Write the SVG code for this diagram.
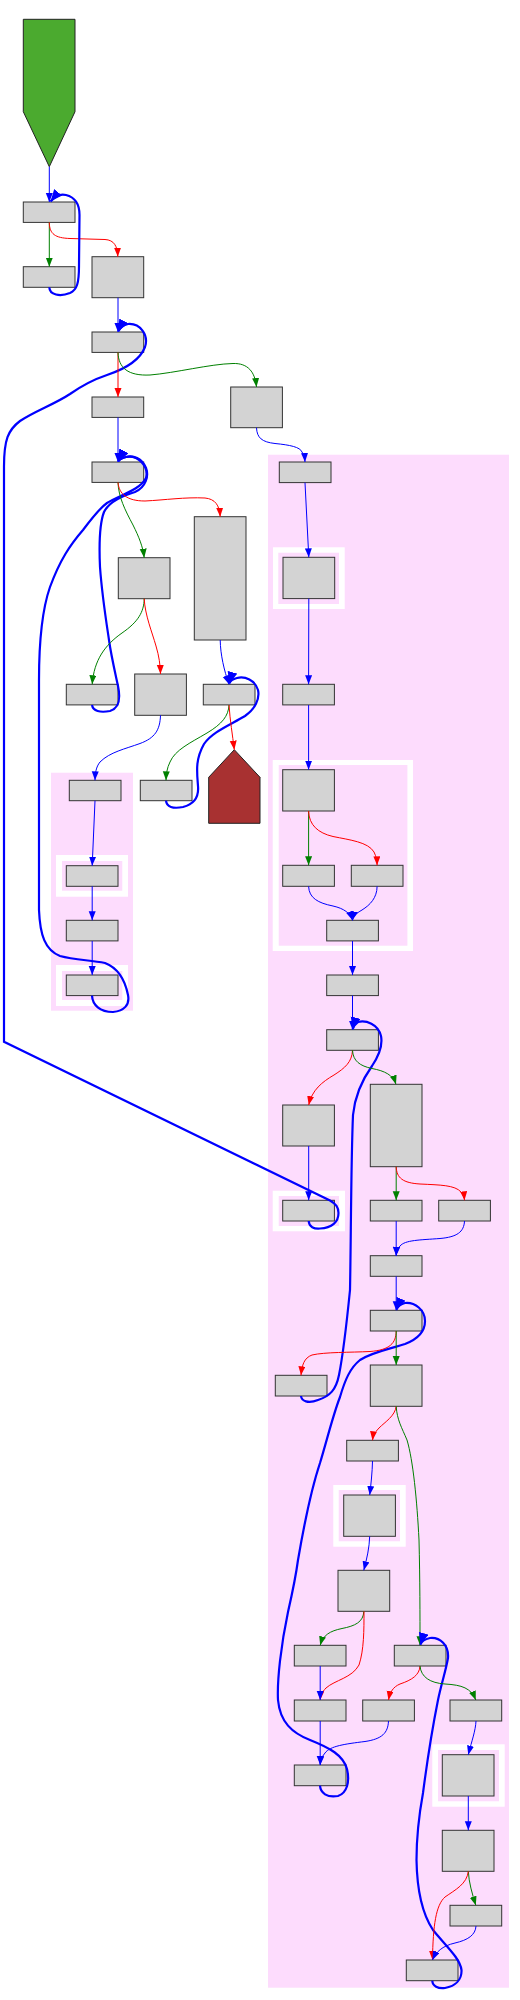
<svg xmlns="http://www.w3.org/2000/svg" width="520" height="2000" viewBox="0 0 520 2000">
<style>
.n{fill:#d3d3d3;stroke:#333;stroke-width:1}
.cl{fill:#fddcfd;stroke:none}
.fr{fill:#fff;stroke:none}
.e{fill:none;stroke-width:1}
.b{stroke:#0000ff}
.g{stroke:#008000}
.r{stroke:#ff0000}
.t{fill:none;stroke:#0000ff;stroke-width:2.2}
</style>
<defs>
<marker id="mb" markerUnits="userSpaceOnUse" markerWidth="10" markerHeight="8" refX="9" refY="3.5" orient="auto"><path d="M0,0 L9,3.5 L0,7 z" fill="#0000ff"/></marker>
<marker id="mg" markerUnits="userSpaceOnUse" markerWidth="10" markerHeight="8" refX="9" refY="3.5" orient="auto"><path d="M0,0 L9,3.5 L0,7 z" fill="#008000"/></marker>
<marker id="mr" markerUnits="userSpaceOnUse" markerWidth="10" markerHeight="8" refX="9" refY="3.5" orient="auto"><path d="M0,0 L9,3.5 L0,7 z" fill="#ff0000"/></marker>
<marker id="mt" markerUnits="userSpaceOnUse" markerWidth="13" markerHeight="11" refX="12" refY="5" orient="auto"><path d="M0,0 L12,5 L0,10 z" fill="#0000ff"/></marker>
</defs>

<g id="clusters">
<rect class="cl" x="51" y="772.7" width="82" height="238"/>
<rect class="fr" x="56" y="855" width="72" height="41.7"/>
<rect class="cl" x="62" y="861" width="60.3" height="29.7"/>
<rect class="fr" x="56" y="965" width="72" height="41"/>
<rect class="cl" x="62" y="971" width="60.3" height="29"/>
<rect class="cl" x="268" y="454.7" width="241" height="1533"/>
<rect class="fr" x="273" y="547.3" width="71.7" height="61.7"/>
<rect class="cl" x="278.3" y="552.7" width="60.7" height="51.3"/>
<rect class="fr" x="272.7" y="760" width="140.3" height="191"/>
<rect class="cl" x="278.7" y="765" width="128.7" height="180.7"/>
<rect class="fr" x="272.7" y="1190.7" width="72.3" height="40.6"/>
<rect class="cl" x="278.7" y="1196" width="60.3" height="30"/>
<rect class="fr" x="333.3" y="1485" width="72.4" height="61.7"/>
<rect class="cl" x="338.7" y="1490" width="61.3" height="51.3"/>
<rect class="fr" x="432.3" y="1744.3" width="72.4" height="62.4"/>
<rect class="cl" x="438" y="1750" width="61" height="51.3"/>
</g>

<g id="start"><polygon points="23.3,19.3 75,19.3 75,111.7 49.3,166.7 23.3,111.7" fill="#4baa2f" stroke="#222" stroke-width="1"/></g>
<g id="A1"><rect class="n" x="23.3" y="202" width="51.7" height="20.4"/></g>
<g id="A2"><rect class="n" x="23.3" y="266.7" width="51.7" height="20.6"/></g>
<g id="A3"><rect class="n" x="92" y="256.7" width="51.7" height="41"/></g>
<g id="B1"><rect class="n" x="92" y="332" width="51.7" height="20.4"/></g>
<g id="B2"><rect class="n" x="92" y="397" width="51.7" height="20.4"/></g>
<g id="B3"><rect class="n" x="92" y="462" width="51.7" height="20.4"/></g>
<g id="C1"><rect class="n" x="230.7" y="387" width="51.7" height="40.7"/></g>
<g id="B4"><rect class="n" x="118.3" y="557.7" width="51.7" height="41"/></g>
<g id="T"><rect class="n" x="194.3" y="516.7" width="51.7" height="123.3"/></g>
<g id="D1"><rect class="n" x="66.3" y="684.3" width="51.7" height="20.6"/></g>
<g id="D2"><rect class="n" x="134.7" y="674" width="51.7" height="41.3"/></g>
<g id="D3"><rect class="n" x="203.3" y="684.3" width="51.7" height="20.6"/></g>
<g id="D4"><rect class="n" x="140.3" y="780.3" width="51.7" height="20.4"/></g>
<g id="end"><polygon points="208.7,823.3 208.7,777.3 234.3,749.7 260,777.3 260,823.3" fill="#a83131" stroke="#222" stroke-width="1"/></g>
<g id="E1"><rect class="n" x="69.3" y="780.3" width="51.7" height="20.4"/></g>
<g id="E2"><rect class="n" x="66.3" y="865.7" width="51.7" height="20.6"/></g>
<g id="E3"><rect class="n" x="66.3" y="920.3" width="51.7" height="20.6"/></g>
<g id="E4"><rect class="n" x="66.3" y="975" width="51.7" height="20.6"/></g>
<g id="F1"><rect class="n" x="279.3" y="462" width="51.7" height="20.6"/></g>
<g id="F2"><rect class="n" x="283" y="557.3" width="51.7" height="41.3"/></g>
<g id="F3"><rect class="n" x="282.7" y="684.3" width="51.7" height="20.6"/></g>
<g id="G1"><rect class="n" x="282.7" y="769.7" width="51.7" height="41.3"/></g>
<g id="G2"><rect class="n" x="282.7" y="865.3" width="51.7" height="21"/></g>
<g id="G3"><rect class="n" x="351.3" y="865.3" width="51.7" height="21"/></g>
<g id="G4"><rect class="n" x="326.7" y="920.3" width="51.7" height="20.6"/></g>
<g id="G5"><rect class="n" x="326.7" y="975" width="51.7" height="20.6"/></g>
<g id="H1"><rect class="n" x="326.7" y="1029.7" width="51.7" height="20.6"/></g>
<g id="H2"><rect class="n" x="282.7" y="1105" width="51.7" height="41"/></g>
<g id="H3"><rect class="n" x="370.3" y="1084.3" width="51.7" height="82.4"/></g>
<g id="H4"><rect class="n" x="282.7" y="1200.3" width="51.7" height="20.7"/></g>
<g id="H5"><rect class="n" x="370.3" y="1200.3" width="51.7" height="20.7"/></g>
<g id="H6"><rect class="n" x="438.7" y="1200.3" width="51.7" height="20.7"/></g>
<g id="H7"><rect class="n" x="370.3" y="1255.7" width="51.7" height="20.6"/></g>
<g id="I1"><rect class="n" x="370.3" y="1310.3" width="51.7" height="20.7"/></g>
<g id="I2"><rect class="n" x="275.3" y="1375.3" width="51.7" height="20.7"/></g>
<g id="I3"><rect class="n" x="370.3" y="1365" width="51.7" height="41.3"/></g>
<g id="I4"><rect class="n" x="346.7" y="1440.3" width="51.7" height="20.7"/></g>
<g id="I5"><rect class="n" x="343.7" y="1495" width="51.7" height="41.3"/></g>
<g id="I6"><rect class="n" x="338" y="1570.3" width="51.7" height="41"/></g>
<g id="J1"><rect class="n" x="294.3" y="1645.3" width="51.7" height="20.7"/></g>
<g id="J2"><rect class="n" x="294.3" y="1700" width="51.7" height="21"/></g>
<g id="J3"><rect class="n" x="294.3" y="1765" width="51.7" height="20.7"/></g>
<g id="K1"><rect class="n" x="394.3" y="1645.3" width="51.7" height="20.7"/></g>
<g id="K2"><rect class="n" x="362.7" y="1700" width="51.7" height="21"/></g>
<g id="K3"><rect class="n" x="450" y="1700" width="51.7" height="21"/></g>
<g id="K4"><rect class="n" x="442.3" y="1754.7" width="51.7" height="41.3"/></g>
<g id="K5"><rect class="n" x="442.3" y="1830.3" width="51.7" height="41"/></g>
<g id="K6"><rect class="n" x="450" y="1905.3" width="51.7" height="20.7"/></g>
<g id="K7"><rect class="n" x="406.3" y="1960" width="51.7" height="20.7"/></g>

<g id="connectors">
<path class="e b" marker-end="url(#mb)" d="M49.3,166.7 L49.3,202"/>
<path class="e g" marker-end="url(#mg)" d="M49.3,222.4 L49.3,266.7"/>
<path class="e r" marker-end="url(#mr)" d="M49.3,222.4 C49.5,234 55,238 70,238.5 L105,239.5 C114,240 117.5,246 117.8,256.7"/>
<path class="t" marker-end="url(#mt)" d="M49.3,287.3 C49.5,295 60,297 70,293 C77,290 79,283 79,266 L79.5,215 C79.5,203 74,197 66,195 C60,193.5 55,196 50.5,201.5"/>
<path class="e b" marker-end="url(#mb)" d="M118,297.7 L118,332"/>
<path class="t" marker-end="url(#mt)" d="M308.7,1221 C309,1227 314,1229 320,1228.5 C332,1228 338.5,1222 338.5,1213 C338.5,1207 336,1204 330,1200.5 L4,1041.7 L4,466.7 C4,440 8,430 20,421 C35,411 55,404 70,394 C80,387 92,380 107,375 C125,369 140,360 145,347 C149,335 140,323 128,324 C123,325 120,328 118.2,331.5"/>
<path class="e r" marker-end="url(#mr)" d="M118,352.4 L118,397"/>
<path class="e g" marker-end="url(#mg)" d="M118,352.4 C118.5,368 128,376 150,375 C175,373 210,364 233,363.5 C248,363 255,372 256.5,387"/>
<path class="e b" marker-end="url(#mb)" d="M118,417.4 L118,462"/>
<path class="t" marker-end="url(#mt)" d="M92,705 C93,711 100,713 110,711 C119,708 121,700 118,686 C115,672 111,655 109,640 C106,620 102,595 100,567 C99,545 99,525 104,512 C110,500 125,495 135,492 C146,487 149,476 146,468 C142,458 133,455 126,457 C122,458 119,460 118.2,461.5"/>
<path class="t" marker-end="url(#mt)" d="M92,995.6 C92.5,1005 100,1012 113,1012 C124,1011 130,1005 128,995 C125,980 118,968 105,963 C90,960 75,960 60,956 C45,950 40,935 39,910 L39,680 C39,640 42,610 50,587 C60,560 70,545 83,530 C92,518 100,508 107,503 C120,495 140,490 146,478 C149,466 138,455 126,457 C122,458 119,460 118.2,461.5"/>
<path class="e g" marker-end="url(#mg)" d="M118,482.4 C118.5,497 125,510 133,525 C139,537 143,547 144.2,557.7"/>
<path class="e r" marker-end="url(#mr)" d="M118,482.4 C119,494 127,501 145,501 C165,500 185,497 205,498 C215,499 219.5,505 220.2,516.7"/>
<path class="e g" marker-end="url(#mg)" d="M144.2,598.7 C144,612 138,622 122,633 C105,645 94,660 92.2,684.3"/>
<path class="e r" marker-end="url(#mr)" d="M144.2,598.7 C145,615 152,632 156,646 C159,656 160.3,665 160.5,674"/>
<path class="e b" marker-end="url(#mb)" d="M220.2,640 C220.5,655 224,670 229,684.3"/>
<path class="t" marker-end="url(#mt)" d="M166,800.7 C166.5,807 173,809 183,807 C195,804 199,797 198,786 C197,772 195,760 204,744 C212,732 230,725 245,716 C255,709 260,699 258,690 C255,680 245,676 237,678 C233,679 230,681 229.2,683.8"/>
<path class="e g" marker-end="url(#mg)" d="M229,705 C228.5,716 222,724 207,733 C190,743 175,750 170,762 C167,768 166.2,774 166,780.3"/>
<path class="e r" marker-end="url(#mr)" d="M229,705 C230,720 232.5,735 234.3,749.7"/>
<path class="e b" marker-end="url(#mb)" d="M160.5,715.3 C160,730 155,738 140,743.5 C125,749 110,752 100,762 C96,767 95.2,773 95,780.3"/>
<path class="e b" marker-end="url(#mb)" d="M95,800.7 L92.2,865.7"/>
<path class="e b" marker-end="url(#mb)" d="M92.2,886.3 L92.2,920.3"/>
<path class="e b" marker-end="url(#mb)" d="M92.2,941 L92.2,975"/>
<path class="e b" marker-end="url(#mb)" d="M256.5,427.7 C257,438 262,442 275,443.5 C290,445 300,447 302,452 C304,455 304.8,458 305,462"/>
<path class="e b" marker-end="url(#mb)" d="M305,482.7 L308.8,557.3"/>
<path class="e b" marker-end="url(#mb)" d="M308.8,598.6 L308.6,684.3"/>
<path class="e b" marker-end="url(#mb)" d="M308.6,705 L308.6,769.7"/>
<path class="e g" marker-end="url(#mg)" d="M308.6,811 L308.6,865.3"/>
<path class="e r" marker-end="url(#mr)" d="M308.6,811 C309,825 318,833 333,836.5 C350,840 368,842 374,852 C376.5,857 377,861 377.1,865.3"/>
<path class="e b" marker-end="url(#mb)" d="M308.6,886.3 C309,898 318,903 333,906 C344,908.5 350,913 352.5,920.3"/>
<path class="e b" marker-end="url(#mb)" d="M377.1,886.3 C377,898 370,905 362,910 C356,913.5 353.5,916 352.5,920.3"/>
<path class="e b" marker-end="url(#mb)" d="M352.5,941 L352.5,975"/>
<path class="e b" marker-end="url(#mb)" d="M352.5,995.6 L352.5,1029.7"/>
<path class="t" marker-end="url(#mt)" d="M301,1396 C301.5,1401 308,1404 318,1400 C330,1396 336,1390 339,1375 C343,1355 347,1320 350,1290 C351,1240 351,1160 353,1115 C355,1095 362,1080 372,1066 C378,1057 383,1046 381,1036 C378,1024 366,1020 358,1022 C355,1024 353.5,1026 352.7,1029.2"/>
<path class="e r" marker-end="url(#mr)" d="M352.5,1050.3 C352,1062 345,1068 334,1075 C322,1082 312,1090 308.7,1105"/>
<path class="e g" marker-end="url(#mg)" d="M352.5,1050.3 C353,1061 360,1066 372,1068.5 C385,1071 393,1075 396,1084.3"/>
<path class="e b" marker-end="url(#mb)" d="M308.7,1146 L308.7,1200.3"/>
<path class="e g" marker-end="url(#mg)" d="M396.2,1166.7 L396.2,1200.3"/>
<path class="e r" marker-end="url(#mr)" d="M396.2,1166.7 C396.5,1178 403,1183 420,1184 C440,1185 455,1185 461,1192 C463.5,1195 464.3,1198 464.5,1200.3"/>
<path class="e b" marker-end="url(#mb)" d="M396.2,1221 L396.2,1255.7"/>
<path class="e b" marker-end="url(#mb)" d="M464.5,1221 C464,1232 457,1237 440,1238.5 C420,1240 405,1240 400,1246 C397.5,1249 396.5,1252 396.2,1255.7"/>
<path class="e b" marker-end="url(#mb)" d="M396.2,1276.3 L396.2,1310.3"/>
<path class="t" marker-end="url(#mt)" d="M320,1785.7 C320.5,1793 327,1798 338,1796 C347,1793 350,1782 347,1769 C343,1755 330,1748 310,1740 C292,1733 280,1722 278,1700 C277,1680 281,1645 288,1612 C293,1590 296,1575 298,1560 C304,1525 311,1490 320,1463 C327,1440 333,1415 340,1397 C345,1380 350,1368 360,1360 C372,1352 390,1349 405,1344 C418,1339 425,1331 425,1321 C425,1310 415,1302 405,1303 C401,1304 398,1306 396.4,1309.8"/>
<path class="e r" marker-end="url(#mr)" d="M396.2,1331 C396,1343 390,1350 370,1351.5 C350,1352.5 325,1352 312,1355 C304,1358 302,1365 301,1375.3"/>
<path class="e g" marker-end="url(#mg)" d="M396.2,1331 L396.2,1365"/>
<path class="e r" marker-end="url(#mr)" d="M396.2,1406.3 C395,1416 385,1422 379,1428 C375,1432 373,1436 372.5,1440.3"/>
<path class="e g" marker-end="url(#mg)" d="M396.2,1406.3 C397,1420 402,1428 407,1440 C413,1460 417,1500 419,1540 C420,1580 420,1615 420,1645.3"/>
<path class="e b" marker-end="url(#mb)" d="M372.5,1461 C372.3,1472 371,1484 369.7,1495"/>
<path class="e b" marker-end="url(#mb)" d="M369.7,1536.3 C369.3,1548 367,1558 363.8,1570.3"/>
<path class="e g" marker-end="url(#mg)" d="M363.8,1611.3 C363.5,1622 355,1626 342,1628.5 C330,1631 323,1635 320.2,1645.3"/>
<path class="e r" marker-end="url(#mr)" d="M364,1611.3 C364,1630 364,1650 359,1665 C352,1678 335,1680 326,1688 C322,1692 320.5,1696 320.2,1700"/>
<path class="e b" marker-end="url(#mb)" d="M320.2,1666 L320.2,1700"/>
<path class="e b" marker-end="url(#mb)" d="M320.2,1721 L320.2,1765"/>
<path class="e b" marker-end="url(#mb)" d="M388.5,1721 C388,1733 382,1739 365,1741.5 C345,1744 330,1746 325,1753 C321.5,1757 320.5,1761 320.2,1765"/>
<path class="t" marker-end="url(#mt)" d="M432.3,1980.7 C432.5,1986 438,1989 445,1988 C455,1986 462,1980 461.5,1970 C460,1958 445,1945 433,1930 C423,1915 417,1890 416.5,1860 C416.5,1840 419,1815 423,1793 C426,1770 433,1725 438,1700 C441,1685 446,1670 448,1658 C449,1645 440,1637 430,1638 C425,1639 421.5,1641 420.4,1644.8"/>
<path class="e r" marker-end="url(#mr)" d="M420,1666 C419.5,1675 412,1680 400,1684 C393,1687 390,1692 388.5,1700"/>
<path class="e g" marker-end="url(#mg)" d="M420,1666 C421,1677 430,1683 445,1684 C462,1685 471,1688 475.8,1700"/>
<path class="e b" marker-end="url(#mb)" d="M476,1721 C475.5,1731 472,1740 468.3,1754.7"/>
<path class="e b" marker-end="url(#mb)" d="M468.3,1796 L468.3,1830.3"/>
<path class="e g" marker-end="url(#mg)" d="M468.3,1871.3 C469,1883 472,1893 475.8,1905.3"/>
<path class="e r" marker-end="url(#mr)" d="M468.3,1871.3 C467,1884 455,1890 445,1897 C436,1905 433,1925 432.5,1960"/>
<path class="e b" marker-end="url(#mb)" d="M476,1926 C475.5,1935 468,1940 455,1943 C442,1946 436,1952 432.5,1960"/>
</g>
</svg>
